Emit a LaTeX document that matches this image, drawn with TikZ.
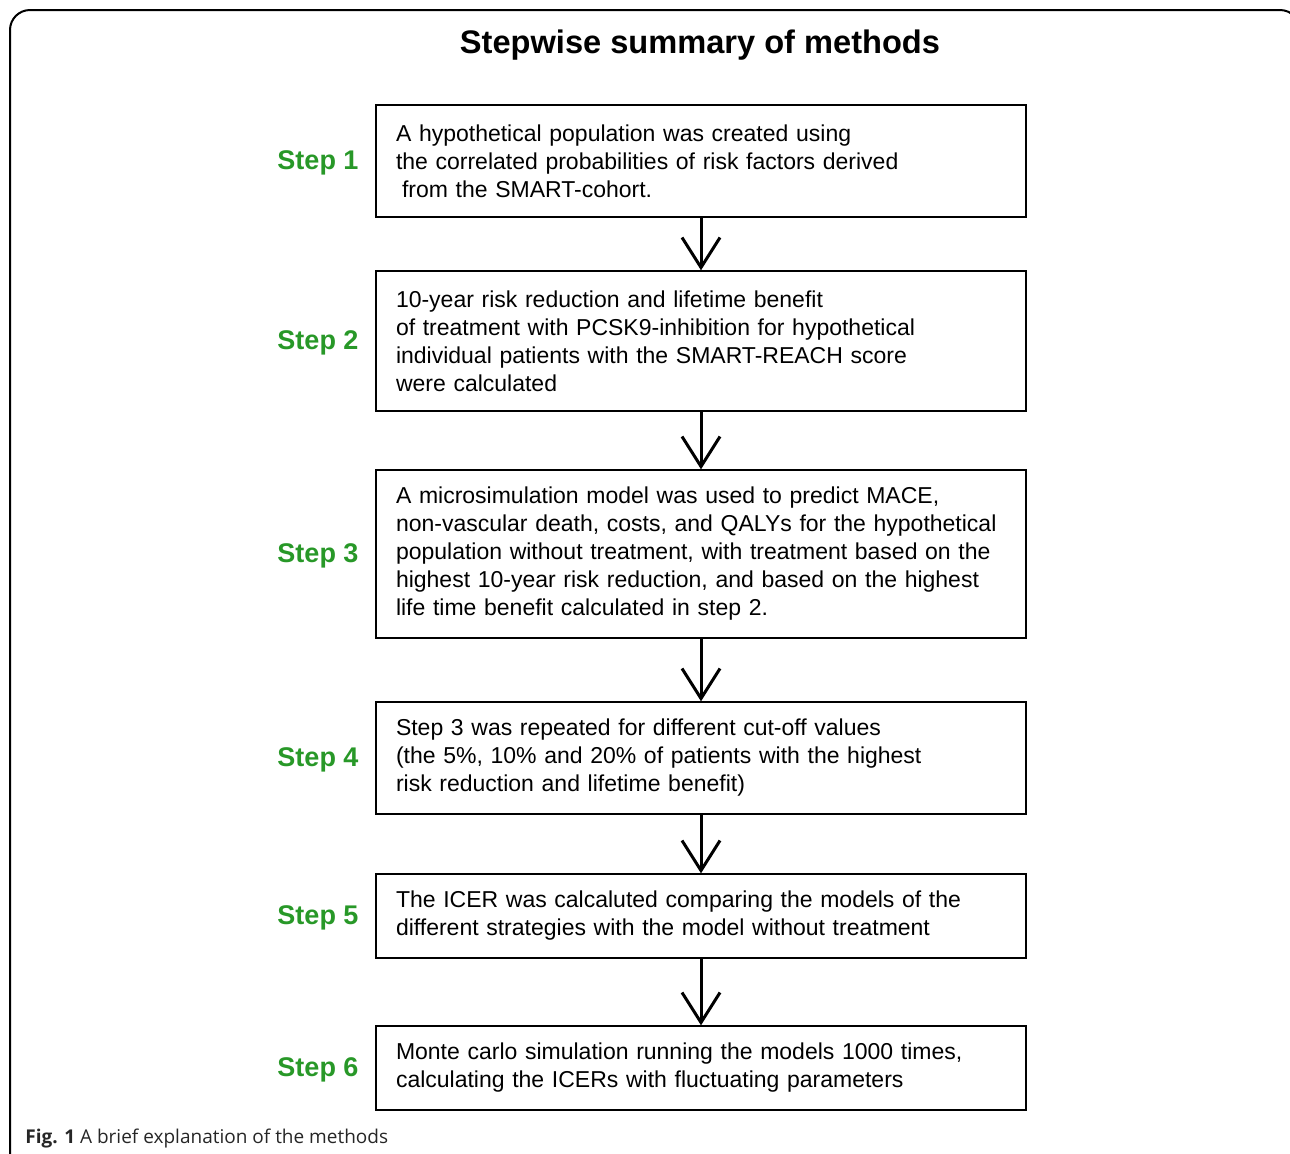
\documentclass[tikz,border=0pt]{standalone}
\usepackage{fontspec}
\setmainfont{Liberation Sans}
\newfontfamily\capfont{Open Sans}
\usetikzlibrary{arrows.meta}
\definecolor{stepgreen}{RGB}{40,152,40}
\tikzset{
    stepbox/.style={draw, line width=0.7pt, text width=305pt, inner xsep=10pt, align=left, font=\fontsize{11.5}{14}\selectfont},
    steplabel/.style={text=stepgreen, font=\bfseries\fontsize{13.5}{16}\selectfont},
    downarrow/.style={line width=1.5pt, -{Straight Barb[length=15pt, width=19pt]}}
}

\begin{document}
\begin{tikzpicture}[x=0.5pt, y=-0.5pt]
    \useasboundingbox (0,0) rectangle (1290,1153);
    \draw[line width=1pt, rounded corners=10pt] (10,1200) -- (10,10) -- (1300,10) -- (1300,1200);
    \node[font=\bfseries\fontsize{16.3}{19}\selectfont] (title) at (700,45) {Stepwise summary of methods};

    \node[stepbox, minimum height=56pt] (box1) at (701,161) {
        A hypothetical population was created using\\
        the correlated probabilities of risk factors derived\\
        \hspace*{3pt}from the SMART-cohort.
    };
    \node[stepbox, minimum height=70pt] (box2) at (701,341) {
        10-year risk reduction and lifetime benefit\\
        of treatment with PCSK9-inhibition for hypothetical\\
        individual patients with the SMART-REACH score\\
        were calculated
    };
    \node[stepbox, minimum height=84pt] (box3) at (701,554) {
        A microsimulation model was used to predict MACE,\\
        non-vascular death, costs, and QALYs for the hypothetical\\
        population without treatment, with treatment based on the\\
        highest 10-year risk reduction, and based on the highest\\
        life time benefit calculated in step 2.
    };
    \node[stepbox, minimum height=56pt] (box4) at (701,758) {
        Step 3 was repeated for different cut-off values\\
        (the 5\%, 10\% and 20\% of patients with the highest\\
        risk reduction and lifetime benefit)
    };
    \node[stepbox, minimum height=42pt] (box5) at (701,916) {
        The ICER was calcaluted comparing the models of the\\
        different strategies with the model without treatment
    };
    \node[stepbox, minimum height=42pt] (box6) at (701,1068) {
        Monte carlo simulation running the models 1000 times,\\
        calculating the ICERs with fluctuating parameters
    };

    \node[steplabel] (label1) at (318,163) {Step 1};
    \node[steplabel] (label2) at (318,343) {Step 2};
    \node[steplabel] (label3) at (318,556) {Step 3};
    \node[steplabel] (label4) at (318,760) {Step 4};
    \node[steplabel] (label5) at (318,918) {Step 5};
    \node[steplabel] (label6) at (318,1070) {Step 6};

    \draw[downarrow] (box1.south) -- (box2.north);
    \draw[downarrow] (box2.south) -- (box3.north);
    \draw[downarrow] (box3.south) -- (box4.north);
    \draw[downarrow] (box4.south) -- (box5.north);
    \draw[downarrow] (box5.south) -- (box6.north);

    \node[anchor=west, inner sep=0pt, text=black!85, font=\capfont\fontsize{9.5}{11}\selectfont] (caption) at (25,1138) {\textbf{Fig. 1} A brief explanation of the methods};
\end{tikzpicture}
\end{document}
